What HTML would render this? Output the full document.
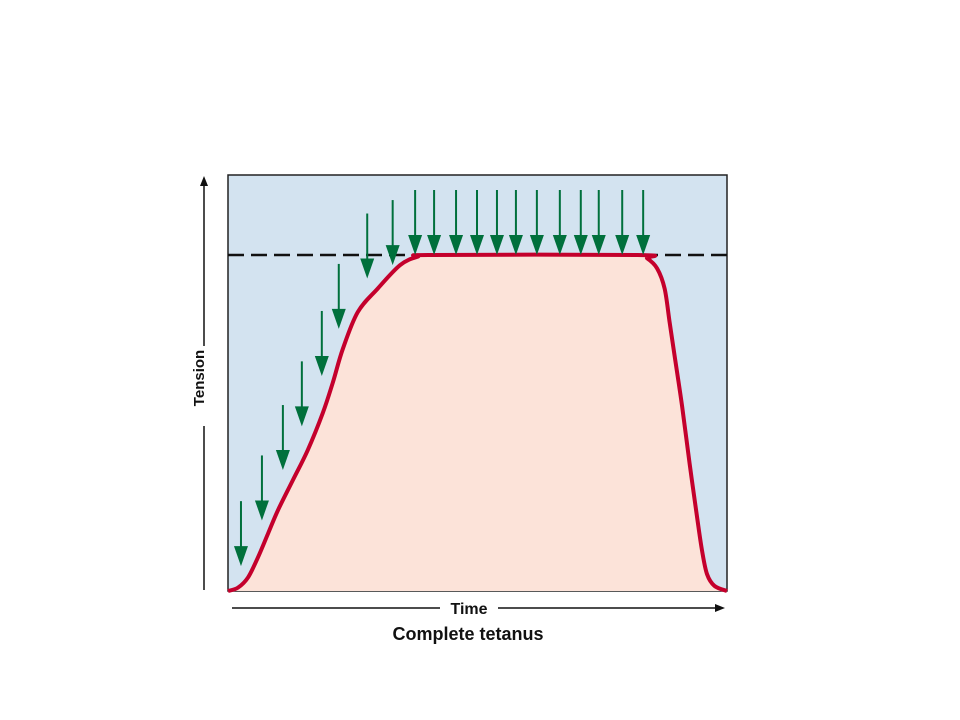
<!DOCTYPE html>
<html><head><meta charset="utf-8"><style>
body{margin:0;background:#fff;width:960px;height:720px;overflow:hidden}
svg{display:block}
text{font-family:"Liberation Sans",Arial,sans-serif;font-weight:bold;fill:#111}
</style></head><body>
<svg id="chart" width="960" height="720">
  <rect x="228" y="175" width="499" height="416" fill="#d3e3f0" stroke="#222" stroke-width="1.5"/>
  <g id="marks"></g>
  <line x1="204" y1="590" x2="204" y2="182" stroke="#111" stroke-width="1.5"/>
  <polygon points="204,176 200,186 208,186" fill="#111"/>
  <rect x="194" y="346" width="20" height="80" fill="#fff"/>
  <text x="209" y="383" font-size="15" text-anchor="middle" transform="rotate(-90 204 383)">Tension</text>
  <line x1="232" y1="608" x2="718" y2="608" stroke="#111" stroke-width="1.5"/>
  <polygon points="725,608 715,604 715,612" fill="#111"/>
  <rect x="440" y="598" width="58" height="20" fill="#fff"/>
  <text x="469" y="614" font-size="16" text-anchor="middle">Time</text>
  <text x="468" y="640" font-size="18" text-anchor="middle">Complete tetanus</text>
</svg>
<script>
const curveTimes = [0,2,4,6,8,10,13,16,19,21,23,26,30,34.5,38,41,82,84,86,87.5,88.5,89.5,91,92.5,94,95,96,97.5,100];
const curveTension = [0,1,4,10,17,24,33,42,53,62,72,83,90,97,99.5,100,100,99,96,90,80,70,55,38,22,12,5,1.5,0];
const stimulusTimes = [2.6,6.8,11,14.8,18.8,22.2,27.9,33,37.5,41.3,45.7,49.9,53.9,57.7,61.9,66.5,70.7,74.3,79,83.2];
const stimulusTension = [7.4,21,36,49,64,78,93,97,100,100,100,100,100,100,100,100,100,100,100,100];
const maxTension = 100;

const X = t => 228 + t * 4.99;
const Y = v => 591 - v * 3.36;
const NS = "http://www.w3.org/2000/svg";
const g = document.getElementById('marks');

// filled area + curve using smooth path
const pts = curveTimes.map((t,i)=>[X(t),Y(curveTension[i])]);
function smooth(p){
  let d = `M${p[0][0]},${p[0][1]}`;
  for(let i=0;i<p.length-1;i++){
    const p0=p[i-1]||p[i],p1=p[i],p2=p[i+1],p3=p[i+2]||p2;
    const c1=[p1[0]+(p2[0]-p0[0])/6,p1[1]+(p2[1]-p0[1])/6];
    const c2=[p2[0]-(p3[0]-p1[0])/6,p2[1]-(p3[1]-p1[1])/6];
    d+=` C${c1[0]},${c1[1]} ${c2[0]},${c2[1]} ${p2[0]},${p2[1]}`;
  }
  return d;
}
const cd = smooth(pts);
const area = document.createElementNS(NS,'path');
area.setAttribute('d', cd + ` L${X(100)},${Y(0)} L${X(0)},${Y(0)} Z`);
area.setAttribute('fill','#fce3d9');


g.appendChild(area);

const dash = document.createElementNS(NS,'line');
dash.setAttribute('x1',228);dash.setAttribute('x2',732);
dash.setAttribute('y1',Y(maxTension));dash.setAttribute('y2',Y(maxTension));
dash.setAttribute('stroke','#111');dash.setAttribute('stroke-width','2.5');
dash.setAttribute('stroke-dasharray','16,7');


g.appendChild(dash);

const line = document.createElementNS(NS,'path');
line.setAttribute('d', cd);
line.setAttribute('fill','none');line.setAttribute('stroke','#c4002c');line.setAttribute('stroke-width','4');


g.appendChild(line);

stimulusTimes.forEach((t,i)=>{
  const x = X(t), tip = Y(stimulusTension[i]), top = tip - 65;
  const a = document.createElementNS(NS,'g');
  
  
  const l = document.createElementNS(NS,'line');
  l.setAttribute('x1',x);l.setAttribute('x2',x);l.setAttribute('y1',top);l.setAttribute('y2',tip-12);
  l.setAttribute('stroke','#00703c');l.setAttribute('stroke-width','2');
  const h = document.createElementNS(NS,'polygon');
  h.setAttribute('points',`${x-7},${tip-20} ${x+7},${tip-20} ${x},${tip}`);
  h.setAttribute('fill','#00703c');
  a.appendChild(l);a.appendChild(h);g.appendChild(a);
});
</script>
</body></html>
